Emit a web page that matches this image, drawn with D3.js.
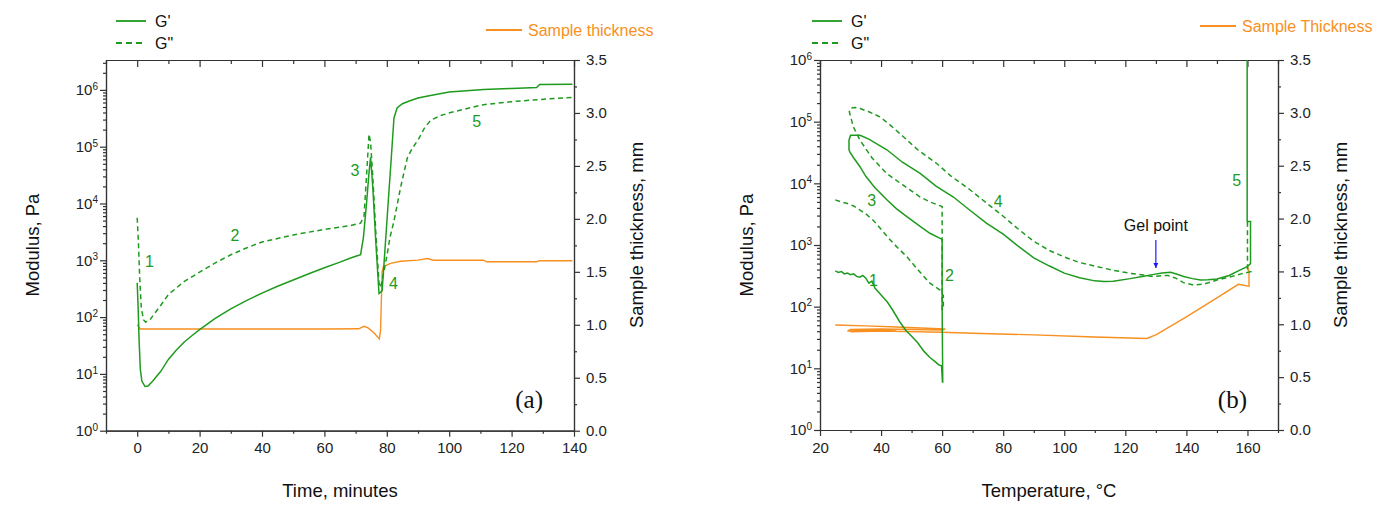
<!DOCTYPE html>
<html>
<head>
<meta charset="utf-8">
<script src="https://cdn.jsdelivr.net/npm/d3@7/dist/d3.min.js"></script>
<style>
  body { margin: 0; background: #fff; }
  text { font-family: "Liberation Sans", Arial, sans-serif; }
</style>
</head>
<body>
<svg id="chart" width="1386" height="507"></svg>
<script>
// ---- panel (a): time sweep, [minutes, value] ----
var timeGp = [[0,400],[0.3,150],[0.6,40],[1,12],[1.5,7.5],[2.5,6],[3.5,6.1],[5,7.5],[7.5,11],[10,18],
  [12.5,26],[15,36],[17.5,47],[20,60],[25,95],[30,140],[35,195],[40,265],[45,350],[50,450],[55,580],
  [60,740],[65,930],[68.4,1100],[71.6,1260],[72.5,2500],[73.5,10000],[74.3,35000],[74.8,65000],
  [75.5,20000],[76.5,2000],[77.5,260],[78.5,290],[79.5,1800],[80.5,11500],[81.5,72000],[82.3,320000],
  [83.3,480000],[85,570000],[87,630000],[90,720000],[94,800000],[100,920000],[111,1020000],
  [120,1060000],[128,1100000],[129,1250000],[139.5,1260000]];
var timeGpp = [[0,5600],[0.4,2000],[0.8,500],[1.3,150],[2,90],[2.7,82],[4,88],[5,105],[7.5,160],
  [10,250],[15,420],[20,620],[25,900],[30,1250],[35,1650],[40,2100],[50,2800],[60,3500],[68.4,4100],
  [71.6,4500],[72.7,6000],[73.5,30000],[74.3,166000],[74.8,120000],[75.5,30000],[76.5,3000],
  [77.5,400],[78,330],[79,600],[80.1,1260],[81,2500],[82.3,4900],[84.4,19000],[86.6,64000],
  [88,90000],[90.3,140000],[92,210000],[94,290000],[97,350000],[100.5,400000],[107,490000],
  [111,550000],[120,620000],[126,660000],[139.5,740000]];
var timeThick = [[0,1.0],[1,0.96],[20,0.96],[40,0.96],[60,0.96],[71,0.962],[72.7,0.985],[74,0.97],
  [76,0.92],[77.6,0.866],[78,0.95],[78.5,1.5],[78.9,1.55],[81.2,1.58],[84.4,1.6],[90,1.61],
  [93,1.625],[95,1.61],[111,1.61],[112,1.595],[128,1.595],[129,1.605],[139.5,1.605]];

// ---- panel (b): temperature ramp, [degC, value] ----
var tempGp = [[25,380],[26,360],[27,370],[28,340],[29,350],[30,330],[31,340],[32,310],[33,300],
  [34,320],[35,290],[36,240],[37,260],[38,200],[40,155],[42,120],[44,85],[46,58],[48,42],[50,33],
  [52,26],[54,19],[56,15],[58,12.5],[59,11.3],[59.8,11],[60.1,6],[60.2,6],[60,100],[60,1230],
  [56,1550],[52.8,2000],[48,3000],[45,3900],[41.9,5400],[38,8500],[35,13000],[33.1,18600],
  [31,26000],[29.8,32000],[29.5,35000],[29.5,50000],[30,60000],[33.1,60000],[36,52000],
  [41.9,35000],[47,22000],[52.8,14500],[58,9000],[63.7,6000],[69,3700],[74.6,2240],[80,1500],
  [85,950],[90,620],[95,460],[100,350],[105,295],[110,262],[113,255],[116,258],[121.6,285],
  [126,312],[129.3,334],[132,350],[134.8,360],[137,335],[139.1,308],[142,285],[144.6,270],
  [147,272],[150,280],[154,320],[157,380],[159.9,445],[161,500],[161,2400],[159.9,2400],
  [159.9,1000000]];
var tempGpp = [[25,5400],[27,5000],[29,4700],[31,4300],[33,3700],[35,3200],[37.5,2500],[40,1800],
  [42.4,1300],[45,950],[48.4,650],[52,400],[56,240],[59.3,186],[60.4,150],[60.4,90],[60,90],
  [60,4200],[56,5000],[52.8,6000],[47,9500],[41.8,14500],[37,26000],[33.1,50000],[30.9,83000],
  [29.6,145000],[30,165000],[31.5,170000],[33.1,163000],[36,145000],[39.6,120000],[43,88000],
  [47.3,57000],[52,35000],[58.2,21000],[63,13000],[69.2,7800],[75,4600],[80.1,2900],[85,1800],
  [90,1150],[95,820],[100,640],[105,520],[110.7,445],[116,390],[121.6,347],[126,325],[129.3,308],
  [132,318],[134,320],[136.5,290],[139,245],[142.4,224],[146,235],[150,270],[155,310],[158,340],
  [161,370],[160,400],[160,2500]];
var tempThick = [[25,0.993],[35,0.985],[45,0.975],[55,0.963],[61,0.955],[60,0.945],[50,0.95],
  [40,0.955],[30,0.95],[29,0.935],[35,0.94],[45,0.945],[30,0.93],[40,0.935],[60,0.925],[70,0.915],
  [90,0.9],[110,0.88],[127,0.866],[130,0.9],[140,1.07],[150,1.25],[157,1.378],[160.5,1.36],
  [160.5,1.5],[160,1.55],[160.3,1.5]];

// tick values
var timeTicks = [0, 20, 40, 60, 80, 100, 120, 140];
var timeMinor = [-10, 10, 30, 50, 70, 90, 110, 130];
var tempTicks = [20, 40, 60, 80, 100, 120, 140, 160];
var tempMinor = [30, 50, 70, 90, 110, 130, 150, 170];
var thickTicks = [0, 0.5, 1, 1.5, 2, 2.5, 3, 3.5];
var thickMinor = [0.25, 0.75, 1.25, 1.75, 2.25, 2.75, 3.25];
var decades = [1, 10, 100, 1e3, 1e4, 1e5, 1e6];

// step labels, [text, x, modulus]
var timeNotes = [["1", 3.9, 945], ["2", 31.3, 2790], ["3", 69.8, 39000], ["4", 82.1, 400], ["5", 108.8, 275000]];
var tempNotes = [["1", 37.5, 270], ["2", 62.4, 325], ["3", 36.9, 5370], ["4", 78.4, 5000], ["5", 156.5, 11300]];
var gelPoint = [130, 1200, 425, 1700]; // x, arrow start, arrow tip, label

var green = "#1e9b1e", orange = "#f7901e", axisCol = "#333";
var svg = d3.select("#chart");

var defs = svg.append("defs");
defs.append("marker").attr("id", "arrow").attr("viewBox", "0 0 10 10")
  .attr("refX", 10).attr("refY", 5).attr("markerWidth", 5).attr("markerHeight", 7)
  .attr("orient", "auto").attr("markerUnits", "userSpaceOnUse")
  .append("path").attr("d", "M0,0 L10,5 L0,10 Z").attr("fill", "#1a1aff");

function drawPanel(p) {
  var x = d3.scaleLinear().domain(p.xDomain).range([p.left, p.right]);
  var y = d3.scaleLog().domain(p.yDomain).range([p.bottom, p.top]);
  var y2 = d3.scaleLinear().domain([0, 3.5]).range([p.bottom, p.top]);
  var g = svg.append("g");

  defs.append("clipPath").attr("id", p.id + "clip").append("rect")
    .attr("x", p.left).attr("y", p.top).attr("width", p.right - p.left).attr("height", p.bottom - p.top);

  // minor log ticks
  var logMinor = [];
  for (var e = 0; e < 7; e++) for (var k = 2; k < 10; k++) {
    var v = k * Math.pow(10, e);
    if (v <= p.yDomain[1]) logMinor.push(v);
  }

  function styleAxis(sel) {
    sel.selectAll("path").attr("stroke", axisCol).attr("stroke-width", 1.2);
    sel.selectAll("line").attr("stroke", axisCol).attr("stroke-width", 1.2);
    sel.selectAll("text").attr("font-size", "15px").attr("fill", "#222");
  }

  // bottom
  g.append("g").attr("transform", `translate(0,${p.bottom})`)
    .call(d3.axisBottom(x).tickValues(p.minor).tickSize(3).tickSizeOuter(0).tickFormat(""))
    .call(styleAxis);
  g.append("g").attr("transform", `translate(0,${p.bottom})`)
    .call(d3.axisBottom(x).tickValues(p.ticks).tickSize(6).tickPadding(6).tickSizeOuter(0).tickFormat(d3.format("d")))
    .call(styleAxis);
  // top (inward)
  g.append("g").attr("transform", `translate(0,${p.top})`)
    .call(d3.axisBottom(x).tickValues(p.minor).tickSize(4).tickSizeOuter(0).tickFormat(""))
    .call(styleAxis);
  g.append("g").attr("transform", `translate(0,${p.top})`)
    .call(d3.axisBottom(x).tickValues(p.ticks).tickSize(7).tickSizeOuter(0).tickFormat(""))
    .call(styleAxis);
  // left log
  g.append("g").attr("transform", `translate(${p.left},0)`)
    .call(d3.axisLeft(y).tickValues(logMinor).tickSize(3).tickSizeOuter(0).tickFormat(""))
    .call(styleAxis);
  var la = g.append("g").attr("transform", `translate(${p.left},0)`)
    .call(d3.axisLeft(y).tickValues(decades).tickSize(6).tickPadding(2).tickSizeOuter(0).tickFormat(""))
    .call(styleAxis);
  la.selectAll(".tick text").each(function(d) {
    var t = d3.select(this).text("10");
    t.append("tspan").attr("dy", "-0.55em").attr("font-size", "10px").text(Math.round(Math.log10(d)));
  });
  // right linear
  g.append("g").attr("transform", `translate(${p.right},0)`)
    .call(d3.axisRight(y2).tickValues(thickMinor).tickSize(3).tickSizeOuter(0).tickFormat(""))
    .call(styleAxis);
  g.append("g").attr("transform", `translate(${p.right},0)`)
    .call(d3.axisRight(y2).tickValues(thickTicks).tickSize(6).tickPadding(6).tickSizeOuter(0).tickFormat(d3.format(".1f")))
    .call(styleAxis);

  // curves
  var line = d3.line().x(d => x(d[0])).y(d => y(d[1]));
  var line2 = d3.line().x(d => x(d[0])).y(d => y2(d[1]));
  var c = g.append("g").attr("clip-path", `url(#${p.id}clip)`);
  c.append("path").attr("d", line2(p.thick)).attr("fill", "none")
    .attr("stroke", orange).attr("stroke-width", 1.4);
  c.append("path").attr("d", line(p.gpp)).attr("fill", "none")
    .attr("stroke", green).attr("stroke-width", 1.5).attr("stroke-dasharray", "5,3.5");
  c.append("path").attr("d", line(p.gp)).attr("fill", "none")
    .attr("stroke", green).attr("stroke-width", 1.5);

  // step numbers
  g.selectAll(".note").data(p.notes).enter().append("text")
    .attr("x", d => x(d[1])).attr("y", d => y(d[2])).attr("dy", "0.35em")
    .attr("text-anchor", "middle").attr("font-size", "16px").attr("fill", green)
    .text(d => d[0]);

  // axis titles
  g.append("text").attr("transform", `translate(${p.left - 73},245) rotate(-90)`)
    .attr("dy", "0.35em").attr("text-anchor", "middle").attr("font-size", "18.5px").attr("fill", "#111")
    .text("Modulus, Pa");
  g.append("text").attr("transform", `translate(${p.right + 63},235) rotate(-90)`)
    .attr("dy", "0.35em").attr("text-anchor", "middle").attr("font-size", "18.5px").attr("fill", "#111")
    .text("Sample thickness, mm");
  g.append("text").attr("x", (p.left + p.right) / 2).attr("y", 497)
    .attr("text-anchor", "middle").attr("font-size", "18.5px").attr("fill", "#111")
    .text(p.xTitle);

  // panel tag (serif)
  g.append("text").attr("x", p.right - 31).attr("y", 408).attr("text-anchor", "end")
    .style("font-family", "'Liberation Serif', 'Times New Roman', serif").attr("font-size", "25px")
    .attr("fill", "#111").text(p.tag);

  // legend
  var lg = g.append("g").attr("font-size", "16px");
  lg.append("line").attr("x1", p.legX).attr("x2", p.legX + 30).attr("y1", 21).attr("y2", 21)
    .attr("stroke", green).attr("stroke-width", 1.8);
  lg.append("text").attr("x", p.legX + 39).attr("y", 27).attr("fill", "#111").text("G'");
  lg.append("line").attr("x1", p.legX).attr("x2", p.legX + 30).attr("y1", 43).attr("y2", 43)
    .attr("stroke", green).attr("stroke-width", 1.8).attr("stroke-dasharray", "6,4");
  lg.append("text").attr("x", p.legX + 39).attr("y", 49).attr("fill", "#111").text("G\"");
  lg.append("line").attr("x1", p.thX).attr("x2", p.thX + 36).attr("y1", p.thY).attr("y2", p.thY)
    .attr("stroke", orange).attr("stroke-width", 1.8);
  lg.append("text").attr("x", p.thX + 42).attr("y", p.thY + 6).attr("fill", orange).text(p.thLabel);

  return { x: x, y: y, g: g };
}

drawPanel({
  id: "a", left: 106, right: 574, top: 60, bottom: 430.7,
  xDomain: [-10, 140], yDomain: [1, 3.36e6],
  ticks: timeTicks, minor: timeMinor,
  gp: timeGp, gpp: timeGpp, thick: timeThick, notes: timeNotes,
  xTitle: "Time, minutes", tag: "(a)",
  legX: 116, thX: 486, thY: 30, thLabel: "Sample thickness"
});

var pb = drawPanel({
  id: "b", left: 820, right: 1278, top: 60, bottom: 430,
  xDomain: [20, 170], yDomain: [1, 1e6],
  ticks: tempTicks, minor: tempMinor,
  gp: tempGp, gpp: tempGpp, thick: tempThick, notes: tempNotes,
  xTitle: "Temperature, \u00b0C", tag: "(b)",
  legX: 812, thX: 1200, thY: 26, thLabel: "Sample Thickness"
});

// gel point annotation
pb.g.append("line")
  .attr("x1", pb.x(gelPoint[0])).attr("x2", pb.x(gelPoint[0]))
  .attr("y1", pb.y(gelPoint[1])).attr("y2", pb.y(gelPoint[2]))
  .attr("stroke", "#1a1aff").attr("stroke-width", 1.2).attr("marker-end", "url(#arrow)");
pb.g.append("text").attr("x", pb.x(gelPoint[0])).attr("y", pb.y(gelPoint[3]))
  .attr("text-anchor", "middle").attr("font-size", "16px").attr("fill", "#111").text("Gel point");
</script>
</body>
</html>
